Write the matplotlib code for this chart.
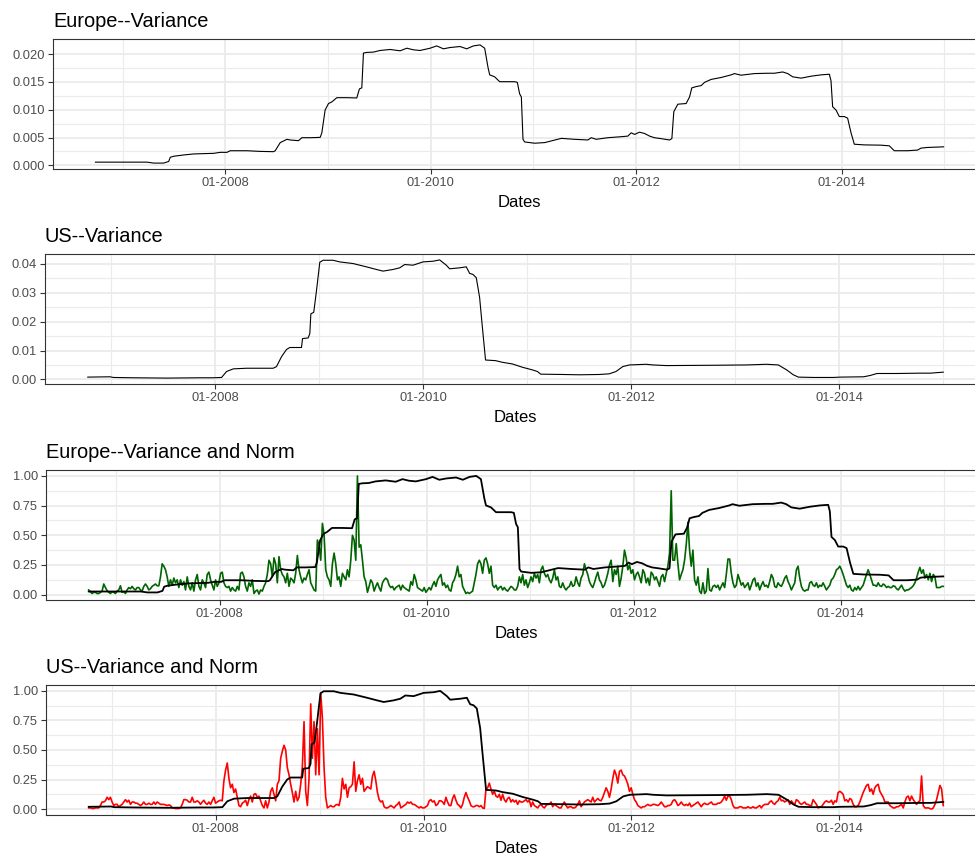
import numpy as np
import matplotlib
matplotlib.use("Agg")
import matplotlib.pyplot as plt
from matplotlib.ticker import FixedLocator, FixedFormatter

plt.rcParams["font.family"] = ["Liberation Sans", "DejaVu Sans"]

# ---------------------------------------------------------------- data
# Rolling variance, Europe (decimal year, variance)
eu_var_dates = [
    2006.736, 2007.109, 2007.238, 2007.303, 2007.400, 2007.449, 2007.465, 2007.498,
    2007.595, 2007.692, 2007.789, 2007.887, 2007.951, 2008.016, 2008.049, 2008.081,
    2008.211, 2008.340, 2008.470, 2008.486, 2008.535, 2008.600, 2008.632, 2008.713,
    2008.746, 2008.827, 2008.924, 2008.940, 2008.972, 2009.005, 2009.037, 2009.086,
    2009.183, 2009.280, 2009.306, 2009.329, 2009.345, 2009.378, 2009.442, 2009.507,
    2009.605, 2009.702, 2009.767, 2009.831, 2009.896, 2009.994, 2010.058, 2010.123,
    2010.188, 2010.285, 2010.350, 2010.415, 2010.480, 2010.525, 2010.558, 2010.574,
    2010.622, 2010.671, 2010.817, 2010.843, 2010.865, 2010.882, 2010.898, 2010.914,
    2011.011, 2011.109, 2011.173, 2011.271, 2011.400, 2011.530, 2011.562, 2011.611,
    2011.724, 2011.854, 2011.919, 2011.951, 2011.984, 2012.032, 2012.081, 2012.130,
    2012.178, 2012.243, 2012.324, 2012.347, 2012.366, 2012.405, 2012.486, 2012.519,
    2012.541, 2012.583, 2012.632, 2012.665, 2012.729, 2012.827, 2012.924, 2012.956,
    2013.021, 2013.151, 2013.280, 2013.345, 2013.426, 2013.475, 2013.523, 2013.605,
    2013.702, 2013.799, 2013.880, 2013.896, 2013.912, 2013.945, 2013.977, 2014.026,
    2014.058, 2014.091, 2014.123, 2014.220, 2014.383, 2014.464, 2014.512, 2014.642,
    2014.739, 2014.772, 2014.836, 2014.992,
]
eu_var = [
    0.00058, 0.00058, 0.00058, 0.00041, 0.00041, 0.00070, 0.00146, 0.00164,
    0.00187, 0.00205, 0.00211, 0.00216, 0.00234, 0.00234, 0.00263, 0.00263,
    0.00263, 0.00251, 0.00246, 0.00263, 0.00409, 0.00468, 0.00456, 0.00444,
    0.00497, 0.00497, 0.00503, 0.00585, 0.00994, 0.01111, 0.01140, 0.01216,
    0.01216, 0.01211, 0.01374, 0.01392, 0.02018, 0.02029, 0.02035, 0.02064,
    0.02082, 0.02058, 0.02105, 0.02076, 0.02064, 0.02105, 0.02146, 0.02094,
    0.02117, 0.02135, 0.02094, 0.02146, 0.02164, 0.02105, 0.01754, 0.01626,
    0.01591, 0.01503, 0.01503, 0.01491, 0.01287, 0.01228, 0.00468, 0.00421,
    0.00398, 0.00409, 0.00439, 0.00485, 0.00468, 0.00456, 0.00497, 0.00468,
    0.00497, 0.00515, 0.00526, 0.00585, 0.00556, 0.00596, 0.00573, 0.00526,
    0.00497, 0.00480, 0.00456, 0.00480, 0.00965, 0.01099, 0.01111, 0.01228,
    0.01392, 0.01415, 0.01433, 0.01491, 0.01544, 0.01579, 0.01626, 0.01649,
    0.01620, 0.01649, 0.01655, 0.01655, 0.01678, 0.01649, 0.01591, 0.01567,
    0.01602, 0.01626, 0.01637, 0.01520, 0.01053, 0.00994, 0.00877, 0.00877,
    0.00848, 0.00585, 0.00380, 0.00368, 0.00363, 0.00351, 0.00263, 0.00263,
    0.00275, 0.00310, 0.00322, 0.00333,
]

# Rolling variance, US (decimal year, variance)
us_var_dates = [
    2006.778, 2006.992, 2007.024, 2007.216, 2007.536, 2007.856, 2007.984, 2008.064,
    2008.112, 2008.176, 2008.304, 2008.496, 2008.560, 2008.592, 2008.640, 2008.688,
    2008.720, 2008.832, 2008.842, 2008.896, 2008.912, 2008.922, 2008.950, 2008.976,
    2009.008, 2009.040, 2009.136, 2009.200, 2009.328, 2009.456, 2009.552, 2009.616,
    2009.712, 2009.776, 2009.824, 2009.904, 2010.000, 2010.096, 2010.160, 2010.224,
    2010.256, 2010.352, 2010.416, 2010.448, 2010.480, 2010.512, 2010.544, 2010.569,
    2010.601, 2010.698, 2010.762, 2010.859, 2010.955, 2011.051, 2011.100, 2011.132,
    2011.341, 2011.502, 2011.695, 2011.791, 2011.855, 2011.920, 2011.984, 2012.145,
    2012.209, 2012.338, 2012.788, 2013.109, 2013.302, 2013.415, 2013.495, 2013.559,
    2013.608, 2013.752, 2013.945, 2014.010, 2014.235, 2014.299, 2014.363, 2014.556,
    2014.781, 2014.878, 2015.000,
]
us_var = [
    0.00080, 0.00091, 0.00068, 0.00057, 0.00046, 0.00057, 0.00057, 0.00068,
    0.00274, 0.00365, 0.00387, 0.00387, 0.00387, 0.00444, 0.00786, 0.01037,
    0.01105, 0.01105, 0.01413, 0.01436, 0.01584, 0.02268, 0.02325, 0.03066,
    0.04057, 0.04125, 0.04125, 0.04068, 0.04011, 0.03897, 0.03806, 0.03749,
    0.03806, 0.03863, 0.03977, 0.03954, 0.04068, 0.04091, 0.04137, 0.03954,
    0.03829, 0.03863, 0.03897, 0.03670, 0.03635, 0.03521, 0.02838, 0.01869,
    0.00672, 0.00650, 0.00593, 0.00536, 0.00422, 0.00330, 0.00274, 0.00182,
    0.00171, 0.00160, 0.00171, 0.00194, 0.00274, 0.00444, 0.00501, 0.00524,
    0.00501, 0.00479, 0.00490, 0.00501, 0.00524, 0.00501, 0.00330, 0.00160,
    0.00080, 0.00068, 0.00068, 0.00080, 0.00091, 0.00137, 0.00205, 0.00205,
    0.00217, 0.00217, 0.00251,
]

# Normalised absolute returns, Europe (evenly spaced over the variance window)
eu_norm = [
    0.04, 0.025, 0.01, 0.02, 0.02, 0.01, 0.01, 0.02, 0.03, 0.09,
    0.06, 0.035, 0.02, 0.01, 0.025, 0.02, 0.01, 0.03, 0.04, 0.075,
    0.02, 0.025, 0.01, 0.04, 0.06, 0.05, 0.07, 0.05, 0.04, 0.06,
    0.06, 0.04, 0.03, 0.07, 0.09, 0.07, 0.04, 0.05, 0.07, 0.08,
    0.09, 0.075, 0.075, 0.15, 0.26, 0.24, 0.21, 0.15, 0.07, 0.125,
    0.08, 0.14, 0.10, 0.125, 0.06, 0.125, 0.08, 0.11, 0.04, 0.15,
    0.07, 0.04, 0.10, 0.03, 0.125, 0.17, 0.07, 0.04, 0.125, 0.10,
    0.06, 0.17, 0.19, 0.125, 0.08, 0.04, 0.125, 0.07, 0.10, 0.18,
    0.19, 0.10, 0.07, 0.06, 0.07, 0.03, 0.06, 0.04, 0.03, 0.07,
    0.04, 0.18, 0.19, 0.15, 0.07, 0.03, 0.10, 0.07, 0.125, 0.01,
    0.03, 0.04, 0.005, 0.04, 0.03, 0.07, 0.10, 0.17, 0.29, 0.26,
    0.15, 0.31, 0.26, 0.10, 0.32, 0.21, 0.17, 0.15, 0.10, 0.18,
    0.07, 0.14, 0.125, 0.10, 0.18, 0.33, 0.21, 0.15, 0.10, 0.14,
    0.125, 0.17, 0.21, 0.10, 0.07, 0.04, 0.03, 0.46, 0.42, 0.29,
    0.60, 0.51, 0.21, 0.15, 0.125, 0.07, 0.26, 0.35, 0.26, 0.125,
    0.15, 0.07, 0.18, 0.15, 0.125, 0.21, 0.15, 0.29, 0.50, 0.46,
    0.29, 1.00, 0.40, 0.42, 0.29, 0.15, 0.11, 0.02, 0.07, 0.125,
    0.10, 0.03, 0.07, 0.10, 0.06, 0.03, 0.10, 0.125, 0.14, 0.125,
    0.08, 0.06, 0.07, 0.04, 0.06, 0.07, 0.08, 0.04, 0.08, 0.06,
    0.05, 0.04, 0.03, 0.11, 0.08, 0.17, 0.125, 0.06, 0.05, 0.04,
    0.03, 0.06, 0.02, 0.04, 0.06, 0.04, 0.08, 0.11, 0.07, 0.125,
    0.15, 0.17, 0.08, 0.10, 0.06, 0.08, 0.04, 0.03, 0.10, 0.125,
    0.17, 0.24, 0.15, 0.17, 0.07, 0.04, 0.01, 0.02, 0.01, 0.02,
    0.03, 0.10, 0.17, 0.26, 0.29, 0.26, 0.18, 0.29, 0.31, 0.26,
    0.18, 0.24, 0.08, 0.06, 0.08, 0.04, 0.06, 0.07, 0.04, 0.06,
    0.04, 0.03, 0.05, 0.07, 0.06, 0.04, 0.04, 0.07, 0.15, 0.10,
    0.17, 0.08, 0.125, 0.06, 0.10, 0.15, 0.11, 0.18, 0.14, 0.17,
    0.10, 0.21, 0.24, 0.18, 0.15, 0.17, 0.125, 0.10, 0.14, 0.21,
    0.125, 0.15, 0.07, 0.06, 0.10, 0.06, 0.04, 0.06, 0.07, 0.11,
    0.07, 0.08, 0.15, 0.10, 0.07, 0.14, 0.17, 0.26, 0.21, 0.17,
    0.11, 0.08, 0.06, 0.10, 0.15, 0.19, 0.125, 0.10, 0.06, 0.08,
    0.125, 0.18, 0.25, 0.29, 0.11, 0.21, 0.17, 0.24, 0.07, 0.14,
    0.24, 0.375, 0.31, 0.21, 0.25, 0.18, 0.21, 0.125, 0.17, 0.19,
    0.15, 0.10, 0.21, 0.18, 0.10, 0.14, 0.08, 0.19, 0.17, 0.125,
    0.15, 0.11, 0.07, 0.15, 0.17, 0.11, 0.18, 0.24, 0.35, 0.875,
    0.29, 0.29, 0.43, 0.26, 0.125, 0.17,
    0.21, 0.29, 0.42, 0.61, 0.375, 0.24, 0.375, 0.125, 0.08, 0.15,
    0.03, 0.01, 0.10, 0.01, 0.03, 0.22, 0.04, 0.03, 0.07, 0.08,
    0.06, 0.08, 0.04, 0.07, 0.10, 0.06, 0.17, 0.30, 0.30, 0.18,
    0.10, 0.06, 0.08, 0.17, 0.125, 0.08, 0.10, 0.06, 0.08, 0.10,
    0.04, 0.08, 0.125, 0.14, 0.07, 0.10, 0.04, 0.08, 0.11, 0.07,
    0.08, 0.06, 0.11, 0.17, 0.14, 0.07, 0.06, 0.10, 0.08, 0.07,
    0.10, 0.14, 0.16, 0.11, 0.08, 0.04, 0.07, 0.10, 0.21, 0.24,
    0.14, 0.07, 0.04, 0.03, 0.04, 0.04, 0.10, 0.11, 0.08, 0.07,
    0.10, 0.06, 0.08, 0.07, 0.10, 0.07, 0.04, 0.06, 0.08, 0.125,
    0.14, 0.17, 0.21, 0.22, 0.24, 0.21, 0.17, 0.125, 0.08, 0.06,
    0.08, 0.04, 0.03, 0.06, 0.04, 0.07, 0.04, 0.06, 0.08, 0.125,
    0.17, 0.21, 0.17, 0.125, 0.08, 0.08, 0.07, 0.10, 0.075, 0.07,
    0.09, 0.08, 0.06, 0.07, 0.06, 0.06, 0.075, 0.07, 0.05, 0.04,
    0.06, 0.08, 0.05, 0.03, 0.04, 0.04, 0.05, 0.06, 0.075, 0.10,
    0.14, 0.19, 0.23, 0.18, 0.21, 0.14, 0.17, 0.125, 0.18, 0.11,
    0.17, 0.15, 0.06, 0.06, 0.06, 0.07, 0.07,
]

# Normalised absolute returns, US (evenly spaced over the variance window)
us_norm = [
    0.01, 0.01, 0.005, 0.005, 0.01, 0.01, 0.01, 0.03, 0.06, 0.06,
    0.07, 0.10, 0.08, 0.10, 0.06, 0.03, 0.04, 0.04, 0.02, 0.03,
    0.04, 0.06, 0.08, 0.06, 0.075, 0.04, 0.06, 0.06, 0.05, 0.05,
    0.04, 0.03, 0.04, 0.06, 0.04, 0.04, 0.05, 0.04, 0.04, 0.06,
    0.04, 0.06, 0.05, 0.04, 0.04, 0.04, 0.035, 0.03, 0.035, 0.03,
    0.01, 0.01, 0.005, 0.005, 0.005, 0.01, 0.04, 0.08, 0.08, 0.075,
    0.06, 0.06, 0.10, 0.06, 0.06, 0.07, 0.06, 0.04, 0.06, 0.075,
    0.05, 0.04, 0.06, 0.04, 0.07, 0.10, 0.05, 0.06, 0.07, 0.075,
    0.07, 0.24, 0.33, 0.39, 0.26, 0.18, 0.21, 0.14, 0.17, 0.10,
    0.03, 0.02, 0.05, 0.06, 0.075, 0.03, 0.08, 0.11, 0.06, 0.125,
    0.13, 0.10, 0.11, 0.07, 0.03, 0.01, 0.07, 0.01, 0.06, 0.15,
    0.18, 0.125, 0.07, 0.21, 0.24, 0.43, 0.49, 0.54, 0.50, 0.35,
    0.29, 0.21, 0.14, 0.06, 0.15, 0.07, 0.10, 0.21, 0.36, 0.74,
    0.15, 0.03, 0.26, 0.89, 0.43, 0.74, 0.29, 0.68, 0.29, 0.98,
    0.77, 0.35, 0.10, 0.01, 0.02, 0.03, 0.02, 0.02, 0.035, 0.04,
    0.03, 0.10, 0.26, 0.17, 0.21, 0.10, 0.18, 0.19, 0.21, 0.40,
    0.15, 0.24, 0.29, 0.21, 0.26, 0.15, 0.17, 0.19, 0.18, 0.17,
    0.28, 0.32, 0.24, 0.14, 0.08, 0.06, 0.07, 0.02, 0.01, 0.01,
    0.02, 0.03, 0.02, 0.01, 0.03, 0.04, 0.06, 0.01, 0.02, 0.03,
    0.04, 0.06, 0.05, 0.06, 0.04, 0.04, 0.03, 0.02, 0.01, 0.02,
    0.01, 0.01, 0.02, 0.03, 0.07, 0.08, 0.06, 0.07, 0.03, 0.04,
    0.07, 0.07, 0.06, 0.04, 0.10, 0.06, 0.03, 0.03, 0.09, 0.12,
    0.075, 0.04, 0.03, 0.01, 0.04, 0.10, 0.14, 0.10, 0.07, 0.03,
    0.02, 0.02, 0.03, 0.03, 0.02, 0.03, 0.01, 0.005, 0.17, 0.18,
    0.22, 0.17, 0.125, 0.15, 0.11, 0.10, 0.125, 0.075, 0.125, 0.08,
    0.06, 0.09, 0.10, 0.06, 0.08, 0.06, 0.075, 0.04, 0.07, 0.06,
    0.06, 0.07, 0.08, 0.06, 0.075, 0.02, 0.06, 0.03, 0.02, 0.01,
    0.03, 0.04, 0.02, 0.01, 0.03, 0.04, 0.04, 0.06, 0.02, 0.04,
    0.03, 0.02, 0.01, 0.01, 0.04, 0.06, 0.03, 0.01, 0.02, 0.02,
    0.01, 0.01, 0.02, 0.04, 0.07, 0.02, 0.04, 0.06, 0.07, 0.08,
    0.07, 0.06, 0.10, 0.06, 0.075, 0.09, 0.075, 0.07, 0.10, 0.14,
    0.18, 0.15, 0.10, 0.17, 0.26, 0.33, 0.29, 0.22, 0.32, 0.33,
    0.29, 0.28, 0.25, 0.21, 0.15, 0.18, 0.125, 0.08, 0.06, 0.03,
    0.02, 0.01, 0.02, 0.02, 0.03, 0.04, 0.03, 0.03, 0.04, 0.04,
    0.035, 0.03, 0.04, 0.06, 0.04, 0.02, 0.02, 0.03, 0.03, 0.04,
    0.07, 0.08, 0.06, 0.03, 0.04, 0.06,
    0.04, 0.03, 0.04, 0.03, 0.05, 0.02, 0.03, 0.04, 0.05, 0.06,
    0.04, 0.02, 0.04, 0.05, 0.04, 0.04, 0.05, 0.06, 0.04, 0.04,
    0.04, 0.05, 0.05, 0.06, 0.08, 0.11, 0.075, 0.11, 0.11, 0.08,
    0.03, 0.01, 0.01, 0.01, 0.02, 0.02, 0.01, 0.01, 0.01, 0.02,
    0.01, 0.01, 0.02, 0.01, 0.01, 0.02, 0.03, 0.01, 0.03, 0.04,
    0.04, 0.04, 0.06, 0.07, 0.05, 0.04, 0.06, 0.07, 0.10, 0.07,
    0.075, 0.06, 0.07, 0.08, 0.04, 0.07, 0.05, 0.04, 0.08, 0.07,
    0.05, 0.04, 0.05, 0.06, 0.04, 0.04, 0.03, 0.03, 0.08, 0.06,
    0.04, 0.01, 0.02, 0.02, 0.04, 0.06, 0.07, 0.06, 0.06, 0.075,
    0.04, 0.07, 0.06, 0.14, 0.15, 0.14, 0.125, 0.07, 0.08, 0.06,
    0.09, 0.08, 0.04, 0.02, 0.02, 0.03, 0.06, 0.10, 0.14, 0.17,
    0.20, 0.21, 0.15, 0.17, 0.125, 0.18, 0.20, 0.21, 0.15, 0.125,
    0.10, 0.06, 0.06, 0.06, 0.03, 0.02, 0.01, 0.01, 0.02, 0.02,
    0.03, 0.04, 0.01, 0.06, 0.10, 0.11, 0.07, 0.11, 0.08, 0.06,
    0.04, 0.06, 0.07, 0.28, 0.03, 0.01, 0.01, 0.01, 0.005, 0.0,
    0.01, 0.04, 0.08, 0.14, 0.20, 0.17, 0.03,
]

# Axis ticks
x_major = [2008, 2010, 2012, 2014]
x_major_labels = ["01-2008", "01-2010", "01-2012", "01-2014"]
x_minor = [2007, 2009, 2011, 2013, 2015]

y_ticks_eu = [0.0, 0.005, 0.010, 0.015, 0.020]
y_labels_eu = ["0.000", "0.005", "0.010", "0.015", "0.020"]
y_ticks_us = [0.0, 0.01, 0.02, 0.03, 0.04]
y_labels_us = ["0.00", "0.01", "0.02", "0.03", "0.04"]
y_ticks_norm = [0.0, 0.25, 0.5, 0.75, 1.0]
y_labels_norm = ["0.00", "0.25", "0.50", "0.75", "1.00"]

titles = ["Europe--Variance", "US--Variance",
          "Europe--Variance and Norm", "US--Variance and Norm"]
x_title = "Dates"

# ---------------------------------------------------------------- helpers
W, H = 975, 857
fig = plt.figure(figsize=(W / 100, H / 100), dpi=100)

GRID = "#EBEBEB"
BORDER = "#333333"
TICKTXT = "#4D4D4D"
RIGHT_PX = 986


def expand(lo, hi, frac=0.05):
    span = hi - lo
    return lo - frac * span, hi + frac * span


def make_panel(left_px, top_px, bottom_px, yticks, ylabels):
    ax = fig.add_axes([left_px / W, 1 - bottom_px / H,
                       (RIGHT_PX - left_px) / W, (bottom_px - top_px) / H])
    ax.set_facecolor("white")
    for s in ax.spines.values():
        s.set_color(BORDER)
        s.set_linewidth(0.8)
    ax.xaxis.set_major_locator(FixedLocator(x_major))
    ax.xaxis.set_major_formatter(FixedFormatter(x_major_labels))
    ax.xaxis.set_minor_locator(FixedLocator(x_minor))
    ax.yaxis.set_major_locator(FixedLocator(yticks))
    ax.yaxis.set_major_formatter(FixedFormatter(ylabels))
    ymid = [(a + b) / 2 for a, b in zip(yticks[:-1], yticks[1:])]
    ax.yaxis.set_minor_locator(FixedLocator(ymid))
    ax.grid(True, which="major", color=GRID, linewidth=1.3)
    ax.grid(True, which="minor", color=GRID, linewidth=0.8)
    ax.set_axisbelow(True)
    ax.tick_params(which="major", length=3.6, width=0.8, color=BORDER,
                   labelsize=9.3, labelcolor=TICKTXT, pad=2.2)
    ax.tick_params(which="minor", length=0)
    ax.tick_params(axis="x", top=False)
    ax.tick_params(axis="y", right=False)
    return ax


def label_panel(ax, left_px, top_px, bottom_px, title):
    fig.text(left_px / W, 1 - (top_px - 12) / H, title, fontsize=14.4,
             color="black", ha="left", va="baseline")
    fig.text((left_px + RIGHT_PX) / 2 / W, 1 - (bottom_px + 33.5) / H,
             x_title, fontsize=12, color="black", ha="center", va="center")


eu_dates = np.array(eu_var_dates)
us_dates = np.array(us_var_dates)
eu_v = np.array(eu_var)
us_v = np.array(us_var)
eu_norm_dates = np.linspace(eu_dates[0], eu_dates[-1], len(eu_norm))
us_norm_dates = np.linspace(us_dates[0], us_dates[-1], len(us_norm))
eu_var_scaled = eu_v / eu_v.max()
us_var_scaled = us_v / us_v.max()

# ---------------------------------------------------------------- panels
# 1: Europe variance
L1, T1, B1 = 53, 39, 169
ax1 = make_panel(L1, T1, B1, y_ticks_eu, y_labels_eu)
ax1.plot(eu_dates, eu_v, color="black", linewidth=0.8)
ax1.set_xlim(*expand(eu_dates.min(), eu_dates.max()))
ax1.set_ylim(*expand(eu_v.min(), eu_v.max()))
label_panel(ax1, L1, T1, B1, titles[0])

# 2: US variance
L2, T2, B2 = 45, 254, 384
ax2 = make_panel(L2, T2, B2, y_ticks_us, y_labels_us)
ax2.plot(us_dates, us_v, color="black", linewidth=0.8)
ax2.set_xlim(*expand(us_dates.min(), us_dates.max()))
ax2.set_ylim(*expand(us_v.min(), us_v.max()))
label_panel(ax2, L2, T2, B2, titles[1])

# 3: Europe variance (scaled) with normalised returns
L3, T3, B3 = 46, 470, 600
ax3 = make_panel(L3, T3, B3, y_ticks_norm, y_labels_norm)
ax3.plot(eu_norm_dates, eu_norm, color="#006400", linewidth=1.2)
ax3.plot(eu_dates, eu_var_scaled, color="black", linewidth=1.3)
ax3.set_xlim(*expand(eu_dates.min(), eu_dates.max()))
lo3 = min(min(eu_norm), eu_var_scaled.min())
hi3 = max(max(eu_norm), eu_var_scaled.max())
ax3.set_ylim(*expand(lo3, hi3))
label_panel(ax3, L3, T3, B3, titles[2])

# 4: US variance (scaled) with normalised returns
L4, T4, B4 = 46, 685, 815
ax4 = make_panel(L4, T4, B4, y_ticks_norm, y_labels_norm)
ax4.plot(us_norm_dates, us_norm, color="#FF0000", linewidth=1.2)
ax4.plot(us_dates, us_var_scaled, color="black", linewidth=1.3)
ax4.set_xlim(*expand(us_dates.min(), us_dates.max()))
lo4 = min(min(us_norm), us_var_scaled.min())
hi4 = max(max(us_norm), us_var_scaled.max())
ax4.set_ylim(*expand(lo4, hi4))
label_panel(ax4, L4, T4, B4, titles[3])

fig.savefig("out.png", dpi=100, facecolor="white")
